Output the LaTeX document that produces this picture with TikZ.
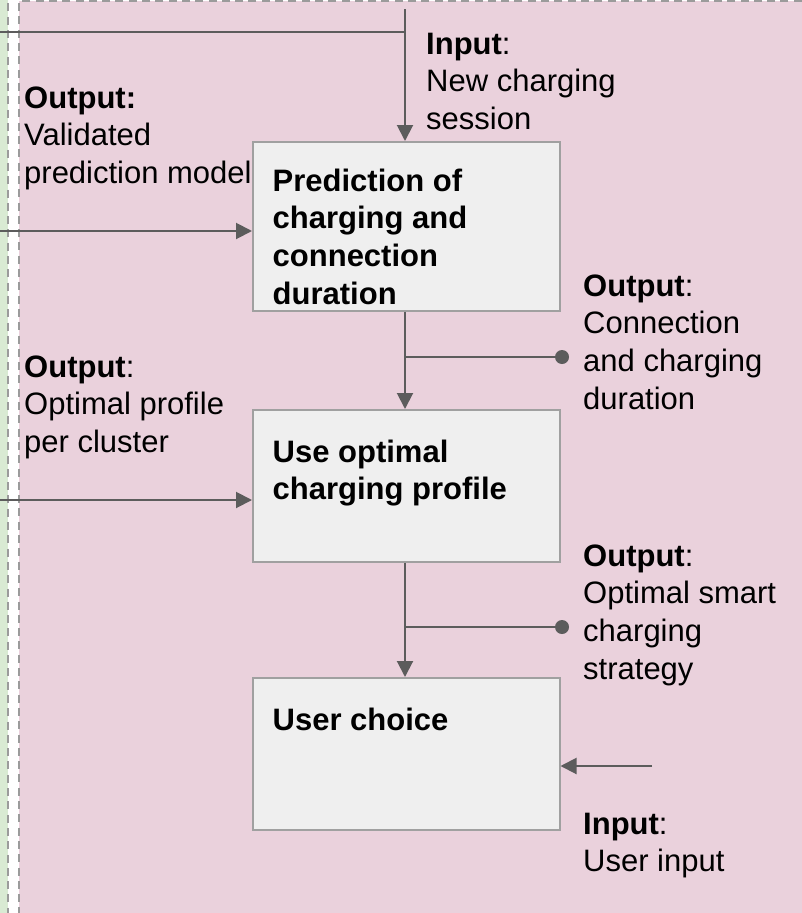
\documentclass[tikz,border=0pt]{standalone}
\usepackage{fontspec}
\setmainfont{Liberation Sans}
\usetikzlibrary{arrows.meta}
\definecolor{pinkbg}{RGB}{234,209,220}
\definecolor{greenbg}{RGB}{217,234,211}
\definecolor{boxfill}{RGB}{239,239,239}
\definecolor{boxdraw}{RGB}{160,160,160}
\definecolor{linecol}{RGB}{92,92,92}
\definecolor{dashcol}{RGB}{155,155,155}
\newcommand{\txtfont}{\fontsize{31}{37.7}\selectfont}
\tikzset{
  procbox/.style={draw=boxdraw, fill=boxfill, line width=1.5pt, minimum width=307pt, minimum height=152pt, anchor=north west, inner sep=0pt},
  lbl/.style={anchor=north west, inner sep=0pt, align=left, font=\txtfont, text=black},
  conn/.style={draw=linecol, line width=2pt},
  arr/.style={conn, -{Triangle[length=16pt, width=16pt]}},
  region/.style={draw=dashcol, line width=2pt, dash pattern=on 8pt off 5.3pt},
}
\begin{document}
\begin{tikzpicture}[x=1pt, y=-1pt]
\useasboundingbox (0,0) rectangle (802,913);
% regions
\path[fill=greenbg] (-10,-10) rectangle (8,925);
\draw[region] (8,-10) -- (8,925);
\path[fill=pinkbg] (19,1) rectangle (815,925);
\draw[region] (815,1) -- (19,1) -- (19,925);
% boxes
\node[procbox, minimum height=169pt] (b1) at (252,141) {};
\node[procbox] (b2) at (252,409) {};
\node[procbox] (b3) at (252,677) {};
% box texts
\node[lbl] (t1) at (272.5,191-26.4) {\strut\textbf{Prediction of}\\\textbf{charging and}\\\textbf{connection}\\\textbf{duration}};
\node[lbl] (t2) at (272.5,462-26.4) {\strut\textbf{Use optimal}\\\textbf{charging profile}};
\node[lbl] (t3) at (272.5,730-26.4) {\strut\textbf{User choice}};
% side labels
\node[lbl] (inA) at (426,54-26.4) {\strut\textbf{Input}:\\New charging\\session};
\node[lbl] (outA) at (24,108-26.4) {\strut\textbf{Output:}\\Validated\\prediction model};
\node[lbl] (outB) at (583,296-26.4) {\strut\textbf{Output}:\\Connection\\and charging\\duration};
\node[lbl] (outC) at (24,377-26.4) {\strut\textbf{Output}:\\Optimal profile\\per cluster};
\node[lbl] (outD) at (583,566-26.4) {\strut\textbf{Output}:\\Optimal smart\\charging\\strategy};
\node[lbl] (inE) at (583,834-26.4) {\strut\textbf{Input}:\\User input};
% connector coordinates
\coordinate (topS) at (405,9);
\coordinate (topJ) at (405,32);
\coordinate (topL) at (0,32);
\coordinate (l1) at (0,231);
\coordinate (l2) at (0,500);
\coordinate (j1) at (405,357);
\coordinate (d1) at (562,357);
\coordinate (j2) at (405,627);
\coordinate (d2) at (562,627);
\coordinate (r3) at (652,766);
% connectors
\draw[conn] (topL) -- (topJ);
\draw[arr] (topS) -- (topS |- b1.north);
\draw[arr] (l1) -- (l1 -| b1.west);
\draw[arr] (j1 |- b1.south) -- (j1 |- b2.north);
\draw[conn] (j1) -- (d1);
\fill[linecol] (d1) circle (7pt);
\draw[arr] (l2) -- (l2 -| b2.west);
\draw[arr] (j2 |- b2.south) -- (j2 |- b3.north);
\draw[conn] (j2) -- (d2);
\fill[linecol] (d2) circle (7pt);
\draw[arr] (r3) -- (r3 -| b3.east);
\end{tikzpicture}
\end{document}
